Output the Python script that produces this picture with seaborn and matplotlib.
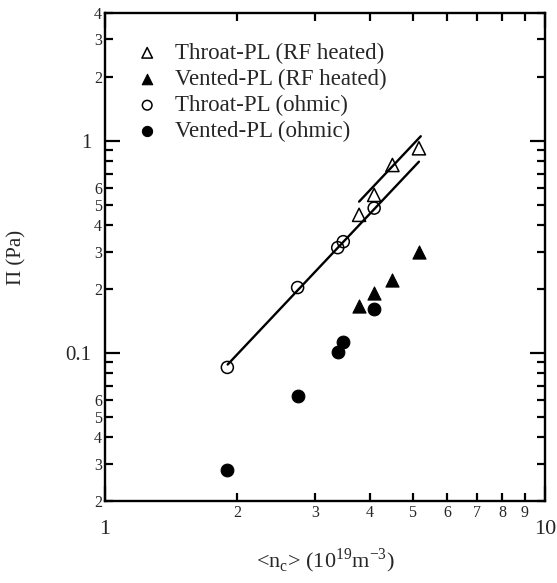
import numpy as np
import pandas as pd
import matplotlib
matplotlib.use('Agg')
import matplotlib.pyplot as plt
import matplotlib.ticker as mticker
import seaborn as sns

# data (log-log)
throat_rf_x = [3.78, 4.09, 4.50, 5.17]
throat_rf_y = [0.447, 0.555, 0.768, 0.921]
vented_rf_x = [3.78, 4.09, 4.50, 5.17]
vented_rf_y = [0.167, 0.191, 0.221, 0.300]
throat_ohm_x = [1.897, 2.74, 3.38, 3.48, 4.09]
throat_ohm_y = [0.0853, 0.203, 0.313, 0.334, 0.481]
vented_ohm_x = [1.897, 2.74, 3.38, 3.48, 4.09]
vented_ohm_y = [0.0281, 0.0627, 0.101, 0.112, 0.161]

# power-law fit lines  y = a * x**k
fit_exponent = 2.2
fit_ohm_coef = 0.02144
fit_ohm_range = [1.9, 5.17]
fit_rf_coef = 0.02768
fit_rf_range = [3.78, 5.22]

sns.set_theme(style="ticks")
plt.rcParams['font.family'] = ['Liberation Serif', 'DejaVu Serif']
plt.rcParams['mathtext.fontset'] = 'custom'
plt.rcParams['mathtext.rm'] = 'Liberation Serif'

fig = plt.figure(figsize=(5.57, 5.83), dpi=100)
ax = fig.add_axes([105 / 557, 1 - 501 / 583, 440 / 557, 488 / 583])

fit_ohm = pd.DataFrame({'x': fit_ohm_range})
fit_ohm['y'] = fit_ohm_coef * fit_ohm['x'] ** fit_exponent
fit_rf = pd.DataFrame({'x': fit_rf_range})
fit_rf['y'] = fit_rf_coef * fit_rf['x'] ** fit_exponent
sns.lineplot(data=fit_ohm, x='x', y='y', color='black', lw=1.7, ax=ax, legend=False)
sns.lineplot(data=fit_rf, x='x', y='y', color='black', lw=1.7, ax=ax, legend=False)

sns.scatterplot(x=throat_rf_x, y=throat_rf_y, marker='^', s=90, facecolor='none',
                edgecolor='black', linewidth=1.1, label='Throat-PL (RF heated)', ax=ax)
sns.scatterplot(x=vented_rf_x, y=vented_rf_y, marker='^', s=90, color='black',
                edgecolor='black', label='Vented-PL (RF heated)', ax=ax)
sns.scatterplot(x=throat_ohm_x, y=throat_ohm_y, marker='o', s=75, facecolor='none',
                edgecolor='black', linewidth=1.1, label='Throat-PL (ohmic)', ax=ax)
sns.scatterplot(x=vented_ohm_x, y=vented_ohm_y, marker='o', s=85, color='black',
                edgecolor='black', label='Vented-PL (ohmic)', ax=ax)

ax.set_xscale('log')
ax.set_yscale('log')
ax.set_xlim(1, 10)
ax.set_ylim(0.02, 4)

def major_fmt(v, pos):
    return '%g' % v

def x_minor_fmt(v, pos):
    m = int(round(v / 10 ** np.floor(np.log10(v) + 1e-9)))
    return str(m)

def y_minor_fmt(v, pos):
    m = int(round(v / 10 ** np.floor(np.log10(v) + 1e-9)))
    return str(m) if m <= 6 else ''

ax.xaxis.set_major_formatter(mticker.FuncFormatter(major_fmt))
ax.yaxis.set_major_formatter(mticker.FuncFormatter(major_fmt))
ax.xaxis.set_minor_locator(mticker.LogLocator(base=10, subs=np.arange(2, 10)))
ax.yaxis.set_minor_locator(mticker.LogLocator(base=10, subs=np.arange(2, 10)))
ax.xaxis.set_minor_formatter(mticker.FuncFormatter(x_minor_fmt))
ax.yaxis.set_minor_formatter(mticker.FuncFormatter(y_minor_fmt))

ax.tick_params(which='both', direction='in', top=True, right=True, color='black', width=1.6)
ax.tick_params(axis='y', which='major', length=11, labelsize=15, pad=10)
ax.tick_params(axis='y', which='minor', length=6, labelsize=11.5, pad=2)
ax.tick_params(axis='x', which='major', length=11, labelsize=16, pad=14)
ax.tick_params(axis='x', which='minor', length=6, labelsize=11.5, pad=3)
for sp in ax.spines.values():
    sp.set_linewidth(1.7)
    sp.set_color('black')

ax.set_xlabel(r'<n$_\mathregular{c}$> (10$^\mathregular{19}$m$^\mathregular{-3}$)', fontsize=16, labelpad=5)
ax.set_ylabel(u'\u03a0 (Pa)', fontsize=15, labelpad=28)

ax.legend(loc='upper left', bbox_to_anchor=(0.049, 0.958), frameon=False, fontsize=16.5,
          handlelength=1.0, handletextpad=0.72, labelspacing=0.22, borderaxespad=0,
          markerscale=0.8)

fig.savefig('out.png', dpi=100)
